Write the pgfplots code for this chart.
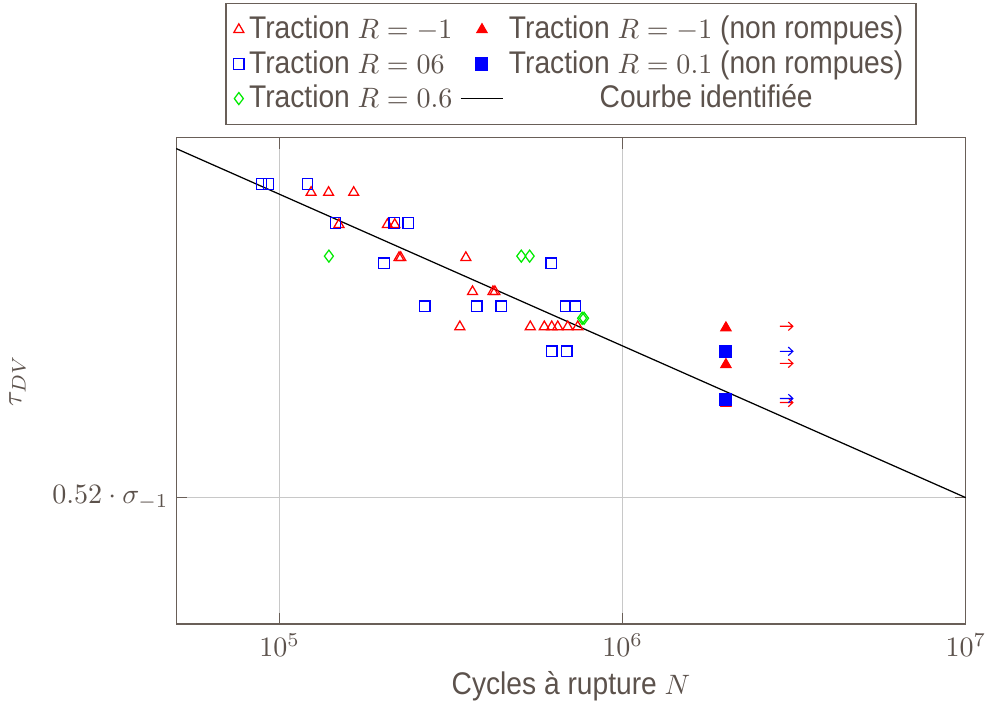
\RequirePackage{fix-cm}
\documentclass[border=0pt]{standalone}
\usepackage[no-math]{fontspec}
\setmainfont{Liberation Sans}[Scale=1.116, FakeStretch=0.9]
\usepackage{pgfplots}
\pgfplotsset{compat=1.18}

\definecolor{txtc}{RGB}{92,82,76}
\definecolor{axc}{RGB}{105,95,88}
\definecolor{gridc}{RGB}{200,200,200}
\definecolor{grn}{RGB}{0,235,0}

% small right arrow used for the run-outs
\pgfdeclareplotmark{rarrow}{%
  \pgfpathmoveto{\pgfqpoint{-\pgfplotmarksize}{0pt}}%
  \pgfpathlineto{\pgfqpoint{\pgfplotmarksize}{0pt}}%
  \pgfpathmoveto{\pgfqpoint{0.3\pgfplotmarksize}{0.65\pgfplotmarksize}}%
  \pgfpathlineto{\pgfqpoint{\pgfplotmarksize}{0pt}}%
  \pgfpathlineto{\pgfqpoint{0.3\pgfplotmarksize}{-0.65\pgfplotmarksize}}%
  \pgfusepathqstroke}

\begin{document}
\color{txtc}
\begin{tikzpicture}
\begin{axis}[
  xmode=log,
  scale only axis,
  width=315.2pt, height=194pt,
  xmin=5e4, xmax=1e7,
  ymin=0, ymax=4.85,
  xtick={1e5,1e6,1e7},
  xminorticks=false,
  ytick={1.26},
  yticklabels={$0.52\cdot\sigma_{-1}$},
  xmajorgrids, ymajorgrids,
  grid style={gridc, line width=0.4pt},
  axis line style={axc, line width=0.5pt},
  tick style={axc, line width=0.5pt},
  tick label style={font=\fontsize{11.2}{13.4}\selectfont},
  xticklabel style={inner xsep=0pt},
  yticklabel style={xshift=0.8pt},
  label style={font=\fontsize{11.2}{13.4}\selectfont},
  xlabel={Cycles à rupture $N$},
  xlabel style={inner ysep=2pt},
  ylabel={$\tau_{DV}$},
  ylabel shift=3pt,
  legend columns=2,
  legend cell align=left,
  legend style={
    at={(0.5,1)}, anchor=south, yshift=5pt,
    draw=axc, line width=0.5pt,
    inner ysep=3pt, row sep=-1pt,
    font=\fontsize{11.2}{13.4}\selectfont,
    /tikz/every even column/.append style={column sep=1pt},
  },
]
% Traction R = -1
\addplot[only marks, mark=triangle, mark size=2.3pt, red, line width=0.5pt] coordinates {
  (123600,4.305) (139000,4.305) (164500,4.305)
  (149000,3.985) (206300,3.985) (216700,3.985)
  (223000,3.655) (225600,3.655) (349200,3.655)
  (365200,3.315) (418800,3.315) (424400,3.315)
  (335400,2.965) (538000,2.965) (591200,2.965) (621400,2.965)
  (647000,2.965) (691800,2.965) (740000,2.965)
};
\addlegendentry{Traction $R=-1$}
% Traction R = -1 (non rompues)
\addplot[only marks, mark=triangle*, mark size=2.3pt, red, line width=0.5pt] coordinates {
  (2e6,2.955) (2e6,2.588) (2e6,2.20)
};
\addlegendentry{Traction $R=-1$ (non rompues)}
% Traction R = 06
\addplot[only marks, mark=square, mark size=2.1pt, blue, line width=0.5pt] coordinates {
  (88600,4.39) (92900,4.39) (120700,4.39)
  (145700,4.00) (216000,4.00) (237300,4.00)
  (201600,3.60) (619600,3.60)
  (265100,3.17) (376000,3.17) (442800,3.17) (681700,3.17) (728200,3.17)
  (621400,2.72) (687200,2.72)
};
\addlegendentry{Traction $R=06$}
% Traction R = 0.1 (non rompues)
\addplot[only marks, mark=square*, mark size=2.35pt, blue, line width=0.5pt] coordinates {
  (2e6,2.72) (2e6,2.24)
};
\addlegendentry{Traction $R=0.1$ (non rompues)}
% Traction R = 0.6
\addplot[only marks, mark=diamond, mark size=2.4pt, grn, line width=0.5pt] coordinates {
  (139300,3.67) (506500,3.67) (535800,3.67) (762000,3.05) (772000,3.05)
};
\addlegendentry{Traction $R=0.6$}
% courbe identifiee
\addplot[black, line width=0.5pt, no marks] coordinates {
  (5e4,4.743) (1e7,1.26)
};
\addlegendentry{\setbox0\hbox{Traction $R=0.1$ (non rompues)}\hbox to \wd0{\hfil Courbe identifiée\hfil}}
% run-out arrows
\addplot[only marks, mark=rarrow, mark size=2.6pt, red, line width=0.45pt, forget plot] coordinates {
  (3e6,2.97) (3e6,2.60) (3e6,2.21)
};
\addplot[only marks, mark=rarrow, mark size=2.6pt, blue, line width=0.45pt, forget plot] coordinates {
  (3e6,2.72) (3e6,2.25)
};
\end{axis}
% a little room above the legend, as in the original
\path ([yshift=1.2pt]current bounding box.north);
\end{tikzpicture}
\end{document}
